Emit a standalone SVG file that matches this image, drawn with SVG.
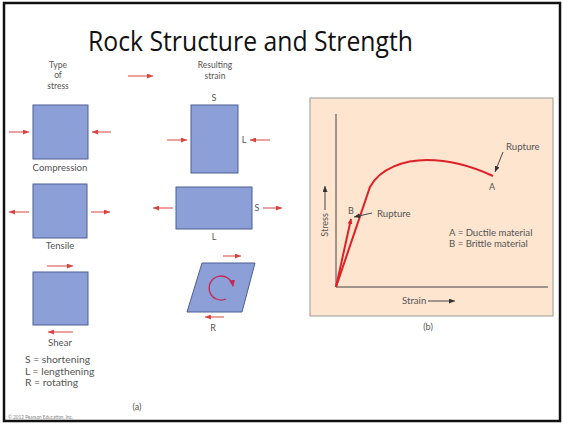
<svg xmlns="http://www.w3.org/2000/svg" width="563" height="424" viewBox="0 0 563 424">
<style>
.t{font-family:Lato,"Liberation Sans",sans-serif;fill:#555;}
.s{font-size:8.5px;}
.c{font-size:9px;}
.m{font-size:9.6px;}
.l{font-size:10.3px;}
.blk{fill:#8c9fd6;stroke:#4d5f92;stroke-width:1;}
.ra{stroke:#d9443f;stroke-width:1;fill:none;}
.ax{stroke:#444;stroke-width:1;fill:none;}
.cv{stroke:#e02027;stroke-width:2;fill:none;}
</style>
<defs>
<marker id="ah" markerUnits="userSpaceOnUse" markerWidth="6" markerHeight="5" refX="6" refY="2.5" orient="auto"><path d="M0,0 L6,2.5 L0,5 z" fill="#d9443f"/></marker>
<marker id="bh" markerUnits="userSpaceOnUse" markerWidth="6" markerHeight="5" refX="6" refY="2.5" orient="auto"><path d="M0,0 L6,2.5 L0,5 z" fill="#333"/></marker>
<marker id="ch" markerUnits="userSpaceOnUse" markerWidth="7" markerHeight="6" refX="6" refY="3" orient="auto"><path d="M0,0 L7,3 L0,6 z" fill="#c22a55"/></marker>
<marker id="rh" markerUnits="userSpaceOnUse" markerWidth="5" markerHeight="5" refX="5" refY="2.5" orient="auto"><path d="M0,0 L5,2.5 L0,5 z" fill="#e02027"/></marker>
</defs>
<rect x="0" y="0" width="563" height="424" fill="#fff"/>
<rect x="4" y="3" width="556" height="418" fill="none" stroke="#111" stroke-width="2.5"/>
<text id="title" x="88" y="51" font-family="'Open Sans','Noto Sans',sans-serif" font-size="28" fill="#111" textLength="325" lengthAdjust="spacingAndGlyphs">Rock Structure and Strength</text>

<g id="head-type"><text class="t s" text-anchor="middle" x="58" y="68">Type</text><text class="t s" text-anchor="middle" x="58" y="78">of</text><text class="t s" text-anchor="middle" x="58" y="89">stress</text></g>
<g id="head-strain"><text class="t s" text-anchor="middle" x="215" y="68">Resulting</text><text class="t s" text-anchor="middle" x="215" y="79">strain</text></g>

<g id="compression"><rect class="blk" x="33" y="105" width="55" height="54"/><text class="t m" text-anchor="middle" x="60" y="171">Compression</text></g>
<g id="tensile"><rect class="blk" x="33" y="184" width="54" height="54"/><text class="t m" text-anchor="middle" x="60" y="249">Tensile</text></g>
<g id="shear"><rect class="blk" x="33" y="272" width="55" height="53"/><text class="t m" text-anchor="middle" x="60" y="346">Shear</text></g>
<g id="legend"><text class="t l" x="25" y="363">S = shortening</text><text class="t l" x="25" y="375">L = lengthening</text><text class="t l" x="25" y="386">R = rotating</text></g>
<g id="label-a"><text class="t c" text-anchor="middle" x="137" y="410">(a)</text></g>
<g id="copyright"><text x="8" y="419" font-family="Lato,'Liberation Sans',sans-serif" font-size="4.7" fill="#888">© 2012 Pearson Education, Inc.</text></g>

<g id="strain-s"><rect class="blk" x="191" y="105" width="47" height="68"/><text class="t c" text-anchor="middle" x="214" y="101">S</text><text class="t c" text-anchor="middle" x="244" y="143">L</text></g>
<g id="strain-l"><rect class="blk" x="176" y="187" width="76" height="42"/><text class="t c" text-anchor="middle" x="257" y="211">S</text><text class="t c" text-anchor="middle" x="214" y="240">L</text></g>
<g id="strain-r"><polygon class="blk" points="202,263 255,263 242,312 187,312"/><path d="M226,299 A12,12 0 1 1 233,286" stroke="#c22a55" stroke-width="1.3" fill="none" marker-end="url(#ch)"/><text class="t c" text-anchor="middle" x="213" y="331">R</text></g>

<g id="chart">
<rect x="310" y="98" width="243" height="218" fill="#fde5cf" stroke="#9a9a9a" stroke-width="1"/>
<text class="t c" text-anchor="middle" x="428" y="330">(b)</text>
<text class="t c" text-anchor="middle" transform="translate(328,225) rotate(-90)">Stress</text>
<text class="t m" x="402" y="304">Strain</text>
<text class="t c" x="348" y="214">B</text>
<text class="t m" x="377" y="217">Rupture</text>
<text class="t c" x="489" y="190">A</text>
<text class="t m" x="506" y="150">Rupture</text>
<text class="t m" x="449" y="236">A = Ductile material</text>
<text class="t m" x="449" y="247">B = Brittle material</text>
</g>

<g id="connectors">
<line class="ra" x1="128" y1="76" x2="153" y2="76" marker-end="url(#ah)"/>
<line class="ra" x1="9" y1="132" x2="29" y2="132" marker-end="url(#ah)"/>
<line class="ra" x1="111" y1="132" x2="92" y2="132" marker-end="url(#ah)"/>
<line class="ra" x1="29" y1="212" x2="9" y2="212" marker-end="url(#ah)"/>
<line class="ra" x1="91" y1="212" x2="110" y2="212" marker-end="url(#ah)"/>
<line class="ra" x1="47" y1="266" x2="73" y2="266" marker-end="url(#ah)"/>
<line class="ra" x1="73" y1="332" x2="48" y2="332" marker-end="url(#ah)"/>
<line class="ra" x1="167" y1="140" x2="187" y2="140" marker-end="url(#ah)"/>
<line class="ra" x1="270" y1="140" x2="250" y2="140" marker-end="url(#ah)"/>
<line class="ra" x1="173" y1="208" x2="153" y2="208" marker-end="url(#ah)"/>
<line class="ra" x1="263" y1="208" x2="282" y2="208" marker-end="url(#ah)"/>
<line class="ra" x1="223" y1="256" x2="241" y2="256" marker-end="url(#ah)"/>
<line class="ra" x1="224" y1="317" x2="205" y2="317" marker-end="url(#ah)"/>
<line class="ax" x1="336" y1="114" x2="336" y2="287"/>
<line class="ax" x1="336" y1="287" x2="548" y2="287"/>
<line class="ax" x1="325" y1="210" x2="325" y2="186" marker-end="url(#bh)"/>
<line class="ax" x1="428" y1="301" x2="455" y2="301" marker-end="url(#bh)"/>
<path class="cv" d="M336,287 L351,219" marker-end="url(#rh)"/>
<path class="cv" d="M336,287 L370,187 C380,168 405,160 427,160 C455,160 478,169 493,176"/>
<line class="ax" x1="372" y1="213" x2="354" y2="217" marker-end="url(#bh)"/>
<line class="ax" x1="503" y1="152" x2="495" y2="172" marker-end="url(#bh)"/>
</g>
</svg>
